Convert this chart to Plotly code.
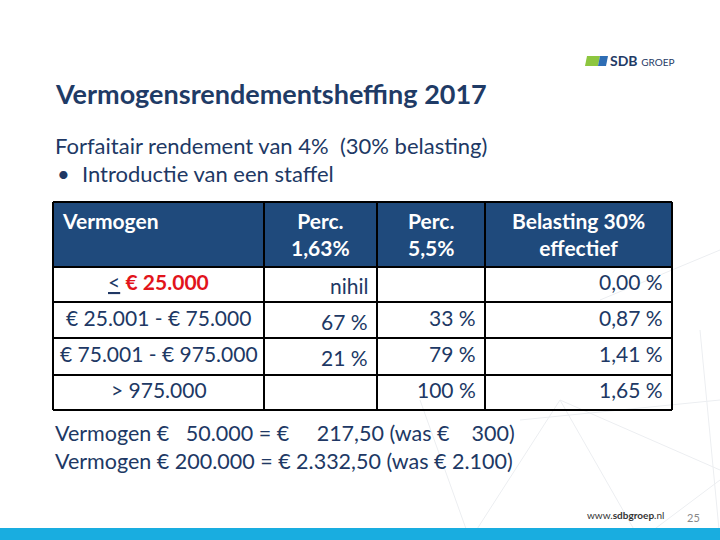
import plotly.graph_objects as go

# ---- data ----
headers = ["Vermogen", "Perc.<br>1,63%", "Perc.<br>5,5%", "Belasting 30%<br>effectief"]
vermogen = ['<u>&lt;</u> <span style="color:#E2141B"><b>€ 25.000</b></span>',
            "€ 25.001 - € 75.000", "€ 75.001 - € 975.000", "&gt; 975.000"]
perc_163 = ["nihil", "67 %", "21 %", ""]
perc_55 = ["", "33 %", "79 %", "100 %"]
effectief = ["0,00 %", "0,87 %", "1,41 %", "1,65 %"]

title = "Vermogensrendementsheffing 2017"
subtitle = "Forfaitair rendement van 4%\u00a0\u00a0(30% belasting)"
bullet = "Introductie van een staffel"
examples = ["Vermogen €\u00a0\u00a0\u00a050.000 = €\u00a0\u00a0\u00a0\u00a0\u00a0217,50 (was €\u00a0\u00a0\u00a0\u00a0300)",
            "Vermogen € 200.000 = € 2.332,50 (was € 2.100)"]

NAVY = "#203864"
HEAD = "#1F4A7C"
FONT = "Lato"
W, H = 720, 540

def px(x):
    return x / W

def py(y):
    return 1 - y / H

fig = go.Figure()

ann = []
def text(x, y, s, size, color=NAVY, bold=False, xanchor="left", family=FONT, yanchor="middle"):
    ann.append(dict(x=px(x), y=py(y), xref="paper", yref="paper", text=("<b>%s</b>" % s) if bold else s,
                    showarrow=False, xanchor=xanchor, yanchor=yanchor, align=xanchor if xanchor != "middle" else "center",
                    font=dict(family=family, size=size, color=color)))

# ---- decorative faint lines ----
deco = [((420, 400), (470, 540)), ((470, 540), (560, 400)), ((560, 400), (720, 470)),
        ((560, 400), (640, 540)), ((640, 540), (720, 480)), ((600, 300), (720, 250)),
        ((700, 330), (720, 540)), ((520, 420), (720, 400))]
for (x0, y0), (x1, y1) in deco:
    fig.add_shape(type="line", xref="paper", yref="paper", x0=px(x0), y0=py(y0), x1=px(x1), y1=py(y1),
                  line=dict(color="#ECEEF1", width=1), layer="below")

# ---- table ----
tbl_x0, tbl_y0 = 53, 202
col_w = [211, 113, 108, 187]
head_h = 65
row_h = [35, 36, 37, 35]
col_align = ["center", "right", "right", "right"]
col_dy = [-3, 1, -3, -3]
pad = 7

xs = [tbl_x0]
for w in col_w:
    xs.append(xs[-1] + w)
ys = [tbl_y0, tbl_y0 + head_h]
for h in row_h:
    ys.append(ys[-1] + h)

fig.add_shape(type="rect", xref="paper", yref="paper", x0=px(xs[0]), x1=px(xs[-1]), y0=py(ys[0]), y1=py(ys[1]),
              fillcolor=HEAD, line_width=0)
for x in xs:
    fig.add_shape(type="line", xref="paper", yref="paper", x0=px(x), x1=px(x), y0=py(ys[0]), y1=py(ys[-1]),
                  line=dict(color="black", width=2))
for y in ys:
    fig.add_shape(type="line", xref="paper", yref="paper", x0=px(xs[0]), x1=px(xs[-1]), y0=py(y), y1=py(y),
                  line=dict(color="black", width=2))

# header texts
text(xs[0] + 7, ys[0] + 18, headers[0], 21, color="white", bold=True)
for c in range(1, 4):
    text((xs[c] + xs[c + 1]) / 2, ys[0] + 32, headers[c], 21, color="white", bold=True, xanchor="center")

cols = [vermogen, perc_163, perc_55, effectief]
for c, vals in enumerate(cols):
    for r, v in enumerate(vals):
        if not v:
            continue
        yc = (ys[r + 1] + ys[r + 2]) / 2 + col_dy[c]
        if col_align[c] == "center":
            text((xs[c] + xs[c + 1]) / 2, yc, v, 21, xanchor="center")
        else:
            text(xs[c + 1] - pad, yc, v, 21, xanchor="right")

# ---- bottom bar ----
fig.add_shape(type="rect", xref="paper", yref="paper", x0=0, x1=1, y0=0, y1=py(528),
              fillcolor="#19ADE0", line_width=0)

# ---- logo ----
fig.add_shape(type="path", xref="paper", yref="paper",
              path="M %f %f L %f %f L %f %f L %f %f Z" % (px(585), py(66), px(598), py(66), px(600), py(56), px(587), py(56)),
              fillcolor="#8DC63F", line_width=0)
fig.add_shape(type="path", xref="paper", yref="paper",
              path="M %f %f L %f %f L %f %f L %f %f Z" % (px(598), py(66), px(606), py(66), px(608), py(56), px(600), py(56)),
              fillcolor="#2E6DB4", line_width=0)

text(53, 94, title, 27, color="#1F3B66", bold=True)
text(53, 145, subtitle, 22)
text(55, 174, "•", 22)
text(80, 174, bullet, 22)
text(53, 433, examples[0], 21.5)
text(53, 461, examples[1], 21.5)
text(608, 61, "<b>SDB</b> <span style='font-size:10px'>GROEP</span>", 14, color="#1F3B66")
text(585, 515, "www.<b>sdbgroep</b>.nl", 10, color="#333333")
text(685, 517, "25", 11, color="#888888")

fig.update_layout(width=W, height=H, margin=dict(l=0, r=0, t=0, b=0),
                  paper_bgcolor="white", plot_bgcolor="white", annotations=ann,
                  xaxis=dict(visible=False), yaxis=dict(visible=False), showlegend=False)
fig.write_html("out.html", config={"displayModeBar": False},
               post_script="document.body.style.margin='0';")
